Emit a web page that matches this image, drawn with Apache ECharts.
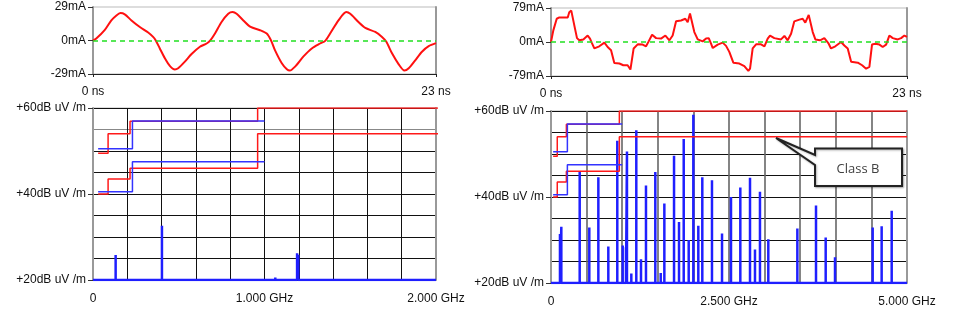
<!DOCTYPE html>
<html>
<head>
<meta charset="utf-8">
<script src="https://cdn.jsdelivr.net/npm/echarts@6/dist/echarts.min.js"></script>
<style>
  html, body { margin: 0; padding: 0; background: #fff; }
  #main { width: 967px; height: 333px; }
</style>
</head>
<body>
<div id="main"></div>
<script>
// time domain, left (ns / mA)
var timeA = [0, 0.22, 0.78, 1.23, 1.57, 1.84, 2.13, 2.58, 3.14, 3.70, 4.03, 4.21, 4.48, 4.82, 5.15, 5.49, 5.71, 6.16, 6.61, 7.17,
    7.62, 7.88, 8.18, 8.62, 9.07, 9.36, 9.63, 10.08, 10.57, 11.2, 11.65, 11.94, 12.2, 12.66, 13.0, 13.2, 13.55, 14.1, 14.67, 15.23,
    15.57, 15.9, 16.46, 16.98, 17.25, 17.8, 18.26, 18.93, 19.38, 19.67, 20.05, 20.5, 20.88, 21.17, 21.62, 22.06, 22.51, 23];
var currentA = [0, 1.7, 8.9, 17.4, 21.7, 23.7, 22.6, 17.4, 11.7, 6.9, 3.1, 0, -6.9, -15.4, -22, -25.1, -24, -18.3, -11.7, -5.4,
    -2.6, 0.3, 6, 16, 23.1, 24.6, 23.1, 17.4, 11.7, 8.9, 6, 0, -8.3, -19.7, -24.9, -26, -22.6, -14, -6.9, -2.6,
    -0.3, 6, 17.4, 24.6, 23.1, 16, 10.9, 7.4, 3.1, -1.1, -11.1, -20.6, -26, -24, -16.9, -9.7, -4.9, -2.3];

// time domain, right
var timeB = [0, 0.15, 0.37, 0.54, 1.08, 1.18, 1.31, 1.4, 1.55, 1.68, 1.83, 2.09, 2.37, 2.52, 2.63, 2.8, 3.12, 3.45, 3.66, 3.88,
    4.09, 4.42, 4.67, 4.95, 5.13, 5.23, 5.34, 5.6, 5.92, 6.14, 6.31, 6.53, 6.79, 7.11, 7.39, 7.65, 7.86, 8.08, 8.4, 8.68,
    8.83, 8.98, 9.09, 9.26, 9.48, 9.8, 10.02, 10.19, 10.34, 10.45, 10.77, 11.09, 11.31, 11.52, 11.78, 12.17, 12.49, 12.75, 12.86, 13.03,
    13.25, 13.57, 13.79, 14.0, 14.15, 14.43, 14.86, 15.08, 15.29, 15.51, 15.72, 16.05, 16.26, 16.43, 16.65, 16.76, 16.91, 17.08, 17.38, 17.66,
    17.77, 17.94, 18.09, 18.37, 18.74, 18.95, 19.17, 19.39, 19.82, 20.1, 20.36, 20.46, 20.57, 20.74, 20.96, 21.22, 21.43, 21.65, 21.86, 22.08,
    22.4, 22.62, 22.83, 23];
var currentB = [0, 27, 54, 57, 57, 69, 73, 69, 31, 9, 4, 6, 15, 8, -1.5, -15, -10, -1.5, -11.6, -19,
    -49, -50, -54, -54, -64, -62, -15, -5.4, -6, -10, 1.5, 17, 9, 8, 15, 4, 15, 48, 50, 54,
    46, 66, 62, 23, 6, 1.5, 8, 9, -4, -14, -6, -1.5, -9, -23, -48, -50, -56, -67, -62, -15,
    -5.4, -5.4, -10, 8, 15, 9, 6, 14, 4, 19, 48, 52, 54, 45, 63, 62, 23, 6, 4, 9,
    9, -4, -15, -10, 0, -8, -15, -46, -48, -54, -62, -66, -58, -6, -4, -6, -11.6, -6, 15, 9,
    6, 9, 15, 12];

// limit lines (MHz / dBuV/m)
var fccFreq = [30, 88, 216, 960, 5000];
var fccClassB = [40, 43.5, 46, 54, 54];
var fccClassA = [49.5, 54, 56.9, 60, 60];
var cisprFreq = [30, 230, 1000];
var cisprClassB = [40.5, 47.5, 47.5];
var cisprClassA = [50.5, 57, 57];

// spectrum peaks
var noiseFloor = 20;
var specFreqA = [132, 402, 1063, 1190, 1197];
var specLevelA = [25.8, 32.6, 20.6, 26.2, 25.9];
var specFreqB = [126, 145, 403, 538, 665, 805, 931, 1007, 1053, 1067, 1128, 1198, 1264, 1334, 1465, 1541, 1592, 1728, 1798, 1864,
    1934, 1999, 2069, 2125, 2261, 2402, 2528, 2659, 2795, 2865, 2935, 3052, 3460, 3722, 3858, 3989, 4518, 4644, 4785];
var specLevelB = [31.4, 33.1, 46, 32.9, 44.6, 28.5, 53.1, 28.7, 28.3, 50.6, 22.2, 55.5, 25.5, 42.7, 45.8, 22.3, 38.5, 49.6, 34.2, 53.5,
    30, 59.1, 33.3, 44.6, 43.9, 31.5, 40, 42.2, 44.5, 27.8, 41.2, 30.2, 32.7, 38, 30.6, 26, 32.9, 33.2, 36.8];

function pairs(xs, ys) {
    return xs.map(function (x, i) { return [x, ys[i]]; });
}
function spikes(freqs, levels, fmax) {
    var out = [[0, noiseFloor]];
    freqs.forEach(function (f, i) {
        out.push([f, noiseFloor], [f, levels[i]], [f, noiseFloor]);
    });
    out.push([fmax, noiseFloor]);
    return out;
}

var myChart = echarts.init(document.getElementById('main'));
var font = 'Liberation Sans, Arial, sans-serif';
var labelStyle = { color: '#111', fontSize: 12, fontFamily: font };

function timeX(idx) {
    return {
        type: 'value', gridIndex: idx, min: 0, max: 23,
        axisLine: { show: true, onZero: false, lineStyle: { color: '#222', width: 1 } },
        axisTick: { show: true, customValues: [0, 23], length: 3, lineStyle: { color: '#222' } },
        axisLabel: Object.assign({ customValues: [0, 23], margin: 12, formatter: function (v) { return v + ' ns'; } }, labelStyle),
        splitLine: { show: false }
    };
}
function currentY(idx, amp) {
    return {
        type: 'value', gridIndex: idx, min: -amp, max: amp,
        axisLine: { show: true, onZero: false, lineStyle: { color: '#999', width: 2 } },
        axisTick: { show: true, customValues: [-amp, 0, amp], length: 5, lineStyle: { color: '#333' } },
        axisLabel: Object.assign({ customValues: [-amp, 0, amp], margin: 7, formatter: function (v) { return v + 'mA'; } }, labelStyle),
        splitLine: { show: false }
    };
}
function rightEdge(idx) {
    return {
        type: 'value', gridIndex: idx, position: 'right',
        axisLine: { show: true, onZero: false, lineStyle: { color: '#999', width: 2 } },
        axisTick: { show: false }, axisLabel: { show: false }, splitLine: { show: false }
    };
}
function freqX(idx, max, step, vColor, vWidth) {
    return {
        type: 'value', gridIndex: idx, min: 0, max: max, interval: step,
        axisLine: { show: false, onZero: false },
        axisTick: { show: false },
        axisLabel: Object.assign({
            margin: 13, showMaxLabel: true,
            formatter: function (v) {
                if (v === 0) return '0';
                if (v % (max / 2) === 0) return (v / 1000).toFixed(3) + ' GHz';
                return '';
            }
        }, labelStyle),
        splitLine: { show: true, lineStyle: { color: vColor, width: vWidth } }
    };
}
// grid lines every 5 dB
function levelGrid(idx, hColor) {
    return {
        type: 'value', gridIndex: idx, min: 20, max: 60, interval: 5,
        axisLine: { show: true, onZero: false, lineStyle: { color: '#999', width: 2 } },
        axisTick: { show: false },
        axisLabel: { show: false },
        splitLine: { show: true, lineStyle: { color: hColor, width: 1 } }
    };
}
// labelled ticks at 20 / 40 / 60 dB
function levelY(idx) {
    return {
        type: 'value', gridIndex: idx, min: 20, max: 60, position: 'left',
        axisLine: { show: false, onZero: false },
        axisTick: { show: true, customValues: [20, 40, 60], length: 5, lineStyle: { color: '#333' } },
        axisLabel: Object.assign({ customValues: [20, 40, 60], margin: 7, formatter: function (v) { return '+' + v + 'dB uV /m'; } }, labelStyle),
        splitLine: { show: false }
    };
}
function zeroLine() {
    return {
        silent: true, symbol: 'none', label: { show: false },
        lineStyle: { color: '#22e022', type: [5, 4], width: 1.5 },
        data: [{ yAxis: 0 }]
    };
}
function limit(name, xs, ys, color, xi) {
    return {
        name: name, type: 'line', xAxisIndex: xi, yAxisIndex: xi === 2 ? 4 : 7,
        step: 'end', symbol: 'none', data: pairs(xs, ys),
        lineStyle: { color: color, width: 1.5 }, z: 4
    };
}

var gridBorder = { show: true, borderColor: '#bbb', borderWidth: 1, outerBoundsMode: 'none' };

myChart.setOption({
    animation: false,
    backgroundColor: '#fff',
    grid: [
        Object.assign({ left: 93, top: 7, width: 343, height: 67 }, gridBorder),
        Object.assign({ left: 551, top: 8, width: 356, height: 68 }, gridBorder),
        Object.assign({ left: 93, top: 108, width: 343, height: 172 }, gridBorder),
        Object.assign({ left: 551, top: 111, width: 356, height: 172 }, gridBorder)
    ],
    xAxis: [
        timeX(0),
        timeX(1),
        freqX(2, 2000, 200, '#111', 1),
        freqX(3, 5000, 500, '#666', 1.6)
    ],
    yAxis: [
        currentY(0, 29),
        currentY(1, 79),
        rightEdge(0),
        rightEdge(1),
        levelGrid(2, ['#111', '#111', '#111', '#111', '#111', '#111', '#111', '#888', '#111']),
        levelY(2),
        rightEdge(2),
        levelGrid(3, '#111'),
        levelY(3),
        rightEdge(3)
    ],
    series: [
        {
            name: 'current A', type: 'line', xAxisIndex: 0, yAxisIndex: 0, symbol: 'none', smooth: 0.25,
            data: pairs(timeA, currentA), lineStyle: { color: '#ff1010', width: 2 }, markLine: zeroLine(), z: 3
        },
        {
            name: 'current B', type: 'line', xAxisIndex: 1, yAxisIndex: 1, symbol: 'none',
            data: pairs(timeB, currentB), lineStyle: { color: '#ff1010', width: 2 }, markLine: zeroLine(), z: 3
        },
        {
            name: 'spectrum A', type: 'line', xAxisIndex: 2, yAxisIndex: 4, symbol: 'none',
            data: spikes(specFreqA, specLevelA, 2000), lineStyle: { color: '#1f1fff', width: 2.5 }, z: 3
        },
        {
            name: 'spectrum B', type: 'line', xAxisIndex: 3, yAxisIndex: 7, symbol: 'none',
            data: spikes(specFreqB, specLevelB, 5000), lineStyle: { color: '#1f1fff', width: 2.5 }, z: 3
        },
        limit('FCC A', fccFreq, fccClassA, '#ff1a1a', 2),
        limit('FCC B', fccFreq, fccClassB, '#ff1a1a', 2),
        limit('CISPR A', cisprFreq, cisprClassA, '#3333ff', 2),
        limit('CISPR B', cisprFreq, cisprClassB, '#3333ff', 2),
        limit('FCC A', fccFreq, fccClassA, '#ff1a1a', 3),
        limit('FCC B', fccFreq, fccClassB, '#ff1a1a', 3),
        limit('CISPR A', cisprFreq, cisprClassA, '#3333ff', 3),
        limit('CISPR B', cisprFreq, cisprClassB, '#3333ff', 3)
    ],
    graphic: [
        {
            type: 'polygon', z: 100,
            shape: { points: [[776, 138], [815, 155], [815, 148.5], [902, 148.5], [902, 186], [815, 186], [815, 165]] },
            style: { fill: '#fff', stroke: '#222', lineWidth: 2, shadowBlur: 2, shadowColor: 'rgba(0,0,0,0.3)', shadowOffsetX: 1, shadowOffsetY: 1 }
        },
        {
            type: 'text', z: 101, x: 858, y: 169,
            style: { text: 'Class B', font: '13px "Open Sans", sans-serif', fill: '#404040', align: 'center', verticalAlign: 'middle' }
        }
    ]
});
</script>
</body>
</html>
